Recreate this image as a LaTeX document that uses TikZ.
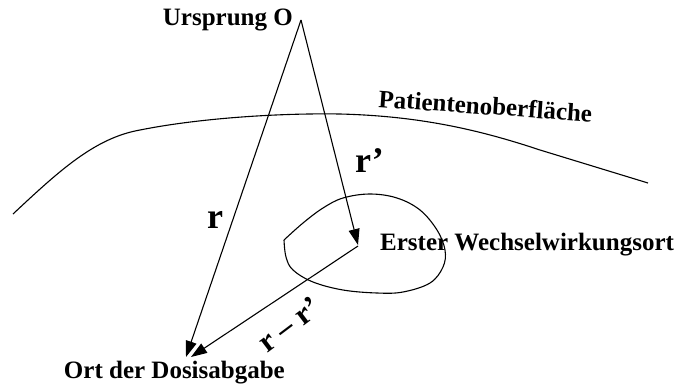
\documentclass[tikz,border=0pt]{standalone}
\usepackage{fontspec}
\setmainfont{Liberation Serif}
\usetikzlibrary{arrows.meta}
\tikzset{
  lbl/.style={font=\fontsize{25}{29}\selectfont\bfseries, inner sep=0pt},
  big/.style={font=\fontsize{36}{40}\selectfont\bfseries, inner sep=0pt},
  mid/.style={font=\fontsize{31}{35}\selectfont\bfseries, inner sep=0pt},
  vec/.style={line width=1.1pt, -{Triangle[length=16pt,width=11pt]}},
  curve/.style={line width=1.1pt}
}
\begin{document}
\begin{tikzpicture}[x=1pt,y=-1pt]
\useasboundingbox (0,0) rectangle (677,386);
% points
\coordinate (O) at (301,20);
\coordinate (D1) at (186,357);
\coordinate (D2) at (191,357);
\coordinate (W) at (358,246);
\coordinate (Wtip) at (358,245);
% surface
\draw[curve] (13,214) .. controls (60,170) and (95,138) .. (140,130)
  .. controls (200,118) and (280,113) .. (340,114)
  .. controls (420,116) and (480,130) .. (540,150)
  -- (648,183);
% interaction region
\draw[curve] plot[smooth, tension=0.6] coordinates {(284,240) (303,223) (323,208) (343,198) (370,194) (397,198) (420,210) (437,230) (445,250) (443,267) (430,283) (403,292) (377,293) (343,290) (313,282) (293,270) (286,257) (284,240)};
% vectors
\draw[vec] (O) -- (D1);
\draw[vec] (O) -- (Wtip);
\draw[vec] (W) -- (D2);
% labels
\node[lbl, anchor=base east] (ursprung) at (293,25) {Ursprung O};
\node[lbl, anchor=base west, rotate=-4] (surf) at (378,107) {Patientenoberfläche};
\node[lbl, anchor=base west] (erster) at (380,250) {Erster Wechselwirkungsort};
\node[lbl, anchor=base east] (ort) at (285,378) {Ort der Dosisabgabe};
\node[big, anchor=base] (r) at (215,228) {r};
\node[big, anchor=base west] (rp) at (355,172) {r’};
\node[mid, rotate=37] (rmr) at (289,324) {r\kern0.25em–\kern0.25em r’};
\end{tikzpicture}
\end{document}
